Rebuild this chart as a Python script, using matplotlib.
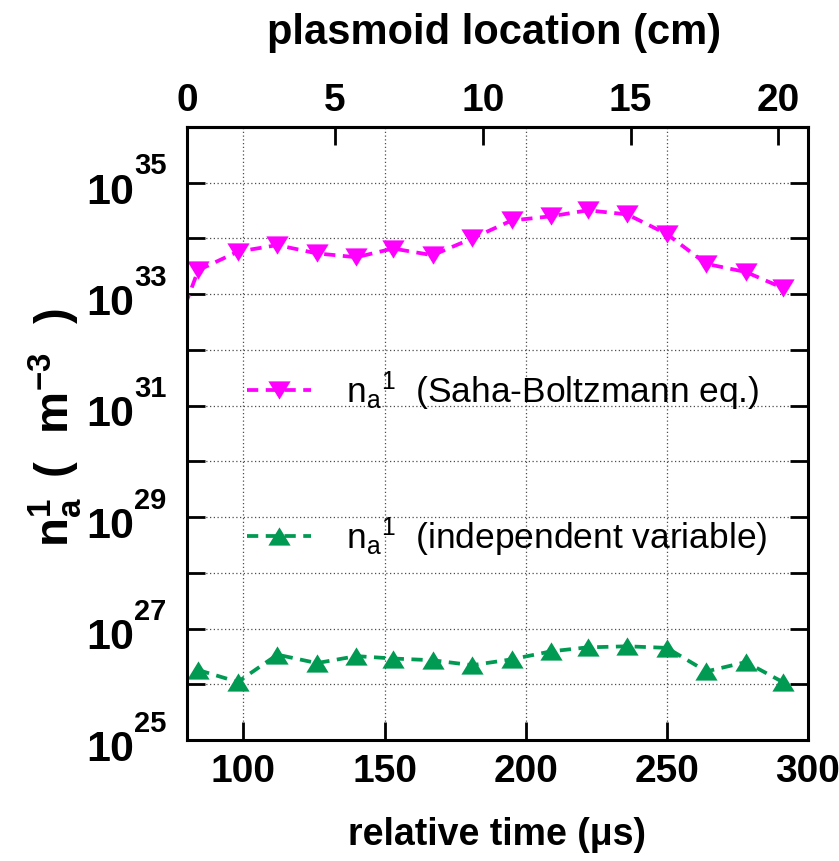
import matplotlib
matplotlib.use("Agg")
import matplotlib.pyplot as plt
from matplotlib import transforms
from matplotlib.path import Path
from matplotlib.ticker import FixedLocator, NullFormatter, NullLocator

plt.rcParams["font.family"] = ["Liberation Sans", "DejaVu Sans"]
plt.rcParams["font.weight"] = "bold"
plt.rcParams["mathtext.fontset"] = "custom"
plt.rcParams["mathtext.rm"] = "Liberation Sans"
plt.rcParams["mathtext.it"] = "Liberation Sans:italic"
plt.rcParams["mathtext.bf"] = "Liberation Sans:bold"

# ---- data ---------------------------------------------------------------
# relative time of each measurement (microseconds)
time_us = [84, 98, 112, 126, 140, 153, 167, 181, 195, 209, 222, 236, 250, 264, 278, 291]

# Saha-Boltzmann series also has an earlier sample before the plotted window
saha_time_us = [70] + time_us
n_saha = [3.5e31,
          2.7e33, 5.8e33, 7.6e33, 5.4e33, 4.6e33, 6.6e33, 5.0e33, 1.0e34,
          2.1e34, 2.5e34, 3.2e34, 2.7e34, 1.2e34, 3.5e33, 2.5e33, 1.3e33]

n_indep = [1.8e26, 1.1e26, 3.4e26, 2.4e26, 3.2e26, 2.9e26, 2.7e26, 2.2e26,
           2.8e26, 3.9e26, 4.6e26, 4.8e26, 4.5e26, 1.7e26, 2.5e26, 1.1e26]

time_ticks = [100, 150, 200, 250, 300]
location_ticks = [0, 5, 10, 15, 20]
decade_exponents = list(range(25, 37))
labelled_exponents = [25, 27, 29, 31, 33, 35]

label_saha = r"n$_\mathregular{a}$$^\mathregular{1}$  (Saha-Boltzmann eq.)"
label_indep = r"n$_\mathregular{a}$$^\mathregular{1}$  (independent variable)"

# ---- figure -------------------------------------------------------------
W, H = 839, 861
fig = plt.figure(figsize=(W / 100, H / 100), dpi=100)
ax = fig.add_axes([187 / W, 1 - 740 / H, 621 / W, 613 / H])

magenta = "#ff00ff"
green = "#009a52"

tri_down = Path([(-1.0, 0.82), (1.0, 0.82), (0.0, -0.82), (-1.0, 0.82)],
                [Path.MOVETO, Path.LINETO, Path.LINETO, Path.CLOSEPOLY])
tri_up = Path([(-1.0, -0.82), (1.0, -0.82), (0.0, 0.82), (-1.0, -0.82)],
              [Path.MOVETO, Path.LINETO, Path.LINETO, Path.CLOSEPOLY])

dash = (0, (3.0, 2.0))
ax.plot(saha_time_us, n_saha, color=magenta, ls=dash, lw=2.7,
        marker=tri_down, ms=16, mew=0, label=label_saha)
ax.plot(time_us, n_indep, color=green, ls=dash, lw=2.7,
        marker=tri_up, ms=16, mew=0, label=label_indep)

ax.set_xlim(80, 300)
ax.set_yscale("log")
ax.set_ylim(1e25, 1e36)

ax.xaxis.set_major_locator(FixedLocator(time_ticks))
ax.yaxis.set_major_locator(FixedLocator([10.0 ** k for k in decade_exponents]))
ax.yaxis.set_minor_locator(NullLocator())
ax.xaxis.set_minor_locator(NullLocator())
ax.yaxis.set_major_formatter(NullFormatter())

ax.tick_params(axis="both", which="major", direction="in", length=13, width=2,
               top=False, right=True, labelsize=28, pad=10)
for sp in ax.spines.values():
    sp.set_linewidth(2.2)

ax.grid(True, which="major", ls=(0, (1, 2)), color="0.3", lw=0.9)

# top axis: plasmoid location
secax = ax.secondary_xaxis("top",
                           functions=(lambda t: (t - 80) * 21 / 220,
                                      lambda c: 80 + c * 220 / 21))
secax.set_xticks(location_ticks)
secax.tick_params(direction="in", length=13, width=2, labelsize=28, pad=6)
secax.spines["top"].set_linewidth(2.2)

# y tick labels as 10 with raised exponent
ytrans = transforms.blended_transform_factory(fig.transFigure, ax.transData)
for e in labelled_exponents:
    base_t = transforms.offset_copy(ytrans, fig=fig, x=0, y=-15, units="points")
    exp_t = transforms.offset_copy(ytrans, fig=fig, x=0, y=6, units="points")
    fig.text(86 / W, 10.0 ** e, "10", transform=base_t, ha="left",
             va="baseline", fontsize=31, fontweight="bold")
    fig.text(134 / W, 10.0 ** e, str(e), transform=exp_t, ha="left",
             va="baseline", fontsize=21, fontweight="bold")

# axis titles
fig.text(497 / W, 1 - 835 / H, "relative time (\u03bcs)", ha="center",
         va="center", fontsize=27, fontweight="bold")
fig.text(494 / W, 1 - 33 / H, "plasmoid location (cm)", ha="center",
         va="center", fontsize=30, fontweight="bold")
fig.text(55 / W, 1 - 428 / H,
         r"$\mathregular{n_a^{1}\,\ (\ \ m^{-3}\ \ )}$", rotation=90,
         ha="center", va="center", fontsize=34, fontweight="bold")

leg = ax.legend(loc="center left", bbox_to_anchor=(247 / W, 1 - 464 / H),
                bbox_transform=fig.transFigure, frameon=False,
                prop={"weight": "normal", "size": 25.5},
                handlelength=1.8, handletextpad=1.0, labelspacing=2.9,
                borderpad=0, borderaxespad=0, numpoints=1)

fig.savefig("out.png", dpi=100)
